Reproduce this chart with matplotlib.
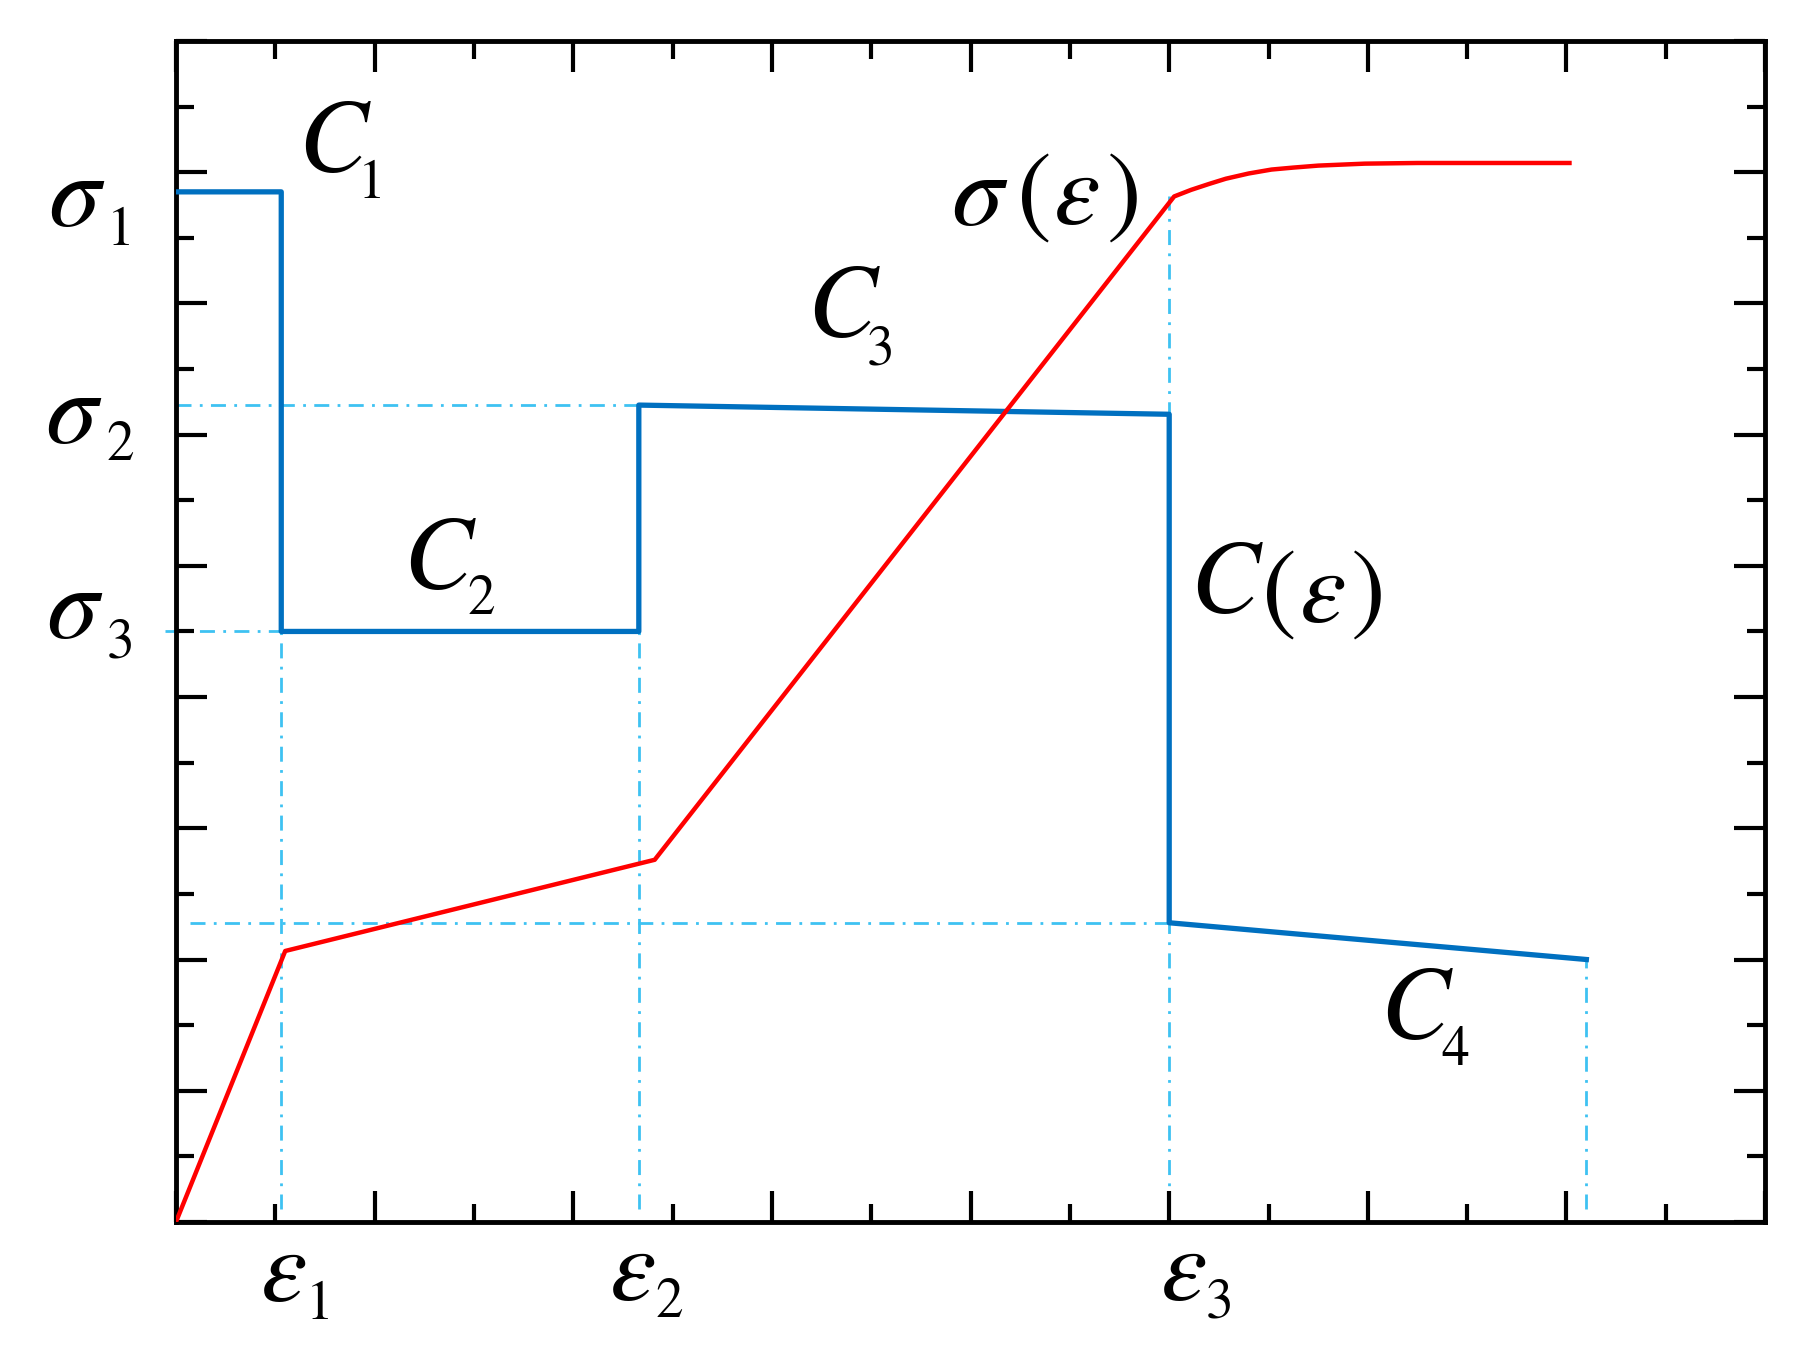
"""
curva tensão-deformação sigma(eps) e função em degraus C(eps)
"""

import matplotlib
matplotlib.use('Agg')
import matplotlib.pyplot as plt
from matplotlib.ticker import MultipleLocator, NullFormatter

plt.rcParams['mathtext.fontset'] = 'stix'
plt.rcParams['font.family'] = 'STIXGeneral'

# deformações características
eps1, eps2, eps3, eps_end = 1.06, 4.66, 10.0, 14.2
sig1, sig2, sig3 = 15.7, 12.45, 9.0

# C(eps) - função em degraus (azul)
eps_c = [0, eps1, eps1, eps2, eps2, eps3, eps3, eps_end]
c_val = [sig1, sig1, sig3, sig3, sig2, 12.31, 4.56, 4.0]

# sigma(eps) - curva (vermelha)
eps_s = [0, 1.10, 4.82, 10.05, 10.22, 10.40, 10.57, 10.80, 11.03, 11.25,
         11.50, 11.97, 12.50, 14.03]
sig_s = [0, 4.13, 5.52, 15.63, 15.73, 15.82, 15.90, 15.98, 16.04, 16.07,
         16.10, 16.13, 16.14, 16.14]

# rótulos: (x, y, texto, tamanho)
big, small = 75, 40
labels = [
    (-1.00, 15.55, r'$\sigma$', big), (-0.58, 15.09, '$1$', small),
    (-1.03, 12.24, r'$\sigma$', big), (-0.56, 11.81, '$2$', small),
    (-1.02, 9.27, r'$\sigma$', big), (-0.57, 8.81, '$3$', small),
    (1.08, -0.84, r'$\varepsilon$', big), (1.42, -1.28, '$1$', small),
    (4.59, -0.82, r'$\varepsilon$', big), (4.96, -1.25, '$2$', small),
    (10.14, -0.82, r'$\varepsilon$', big), (10.49, -1.25, '$3$', small),
    (1.60, 16.39, '$C$', big), (1.94, 15.81, '$1$', small),
    (2.66, 10.03, '$C$', big), (3.07, 9.47, '$2$', small),
    (6.72, 13.87, '$C$', big), (7.08, 13.28, '$3$', small),
    (12.49, 3.17, '$C$', big), (12.88, 2.59, '$4$', small),
    (8.09, 15.56, r'$\sigma$', big), (8.63, 15.58, '$($', big),
    (9.06, 15.58, r'$\varepsilon$', big), (9.52, 15.58, '$)$', big),
    (10.58, 9.67, '$C$', big), (11.09, 9.54, '$($', big),
    (11.54, 9.51, r'$\varepsilon$', big), (11.98, 9.54, '$)$', big),
]

fig = plt.figure(figsize=(18.03, 13.65), dpi=100)
ax = fig.add_axes([0.0976, 0.1048, 0.8814, 0.8652])

guide = dict(color='#3ec2f2', lw=2.0, linestyle=(0, (5.4, 3, 1, 3)), zorder=1)

# linhas de referência tracejadas
ax.plot([-0.11, eps1], [sig3, sig3], clip_on=False, **guide)
ax.plot([0, eps2], [sig2, sig2], **guide)
ax.plot([0.14, eps3], [c_val[6], c_val[6]], **guide)
ax.plot([eps1, eps1], [0.2, sig3], **guide)
ax.plot([eps2, eps2], [0.2, sig3], **guide)
ax.plot([eps3, eps3], [0.2, 15.63], **guide)
ax.plot([eps_end, eps_end], [0.2, c_val[-1]], **guide)

ax.plot(eps_c, c_val, color='#0070c0', lw=3.8, zorder=3)
ax.plot(eps_s, sig_s, color='#ff0000', lw=3.2, zorder=4)

ax.set_xlim(0, 16)
ax.set_ylim(0, 18)
ax.xaxis.set_major_locator(MultipleLocator(2))
ax.xaxis.set_minor_locator(MultipleLocator(1))
ax.yaxis.set_major_locator(MultipleLocator(2))
ax.yaxis.set_minor_locator(MultipleLocator(1))
ax.xaxis.set_major_formatter(NullFormatter())
ax.yaxis.set_major_formatter(NullFormatter())
ax.tick_params(which='both', direction='in', top=True, right=True, width=3)
ax.tick_params(which='major', length=22)
ax.tick_params(which='minor', length=13)
for s in ax.spines.values():
    s.set_linewidth(3.5)

for x, y, t, size in labels:
    ax.text(x, y, t, fontsize=size, ha='center', va='center', clip_on=False)

fig.savefig('out.png', dpi=100)
